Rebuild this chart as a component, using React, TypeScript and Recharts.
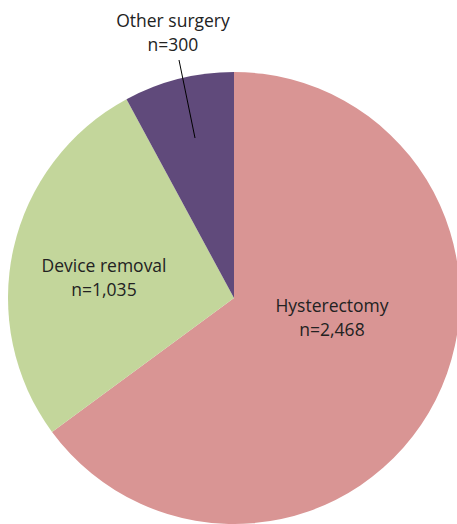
import React from "react";
import { PieChart, Pie, Cell } from "recharts";

const categories = ["Hysterectomy", "Device removal", "Other surgery"];
const counts = [2468, 1035, 300];
const countLabels = ["n=2,468", "n=1,035", "n=300"];

const COLORS = ["#D99594", "#C3D69B", "#604A7B"];

// label placement relative to the pie centre (dx, dy of first line)
const LABEL_OFFSETS: Record<string, { dx: number; dy: number }> = {
  Hysterectomy: { dx: 98, dy: 7 },
  "Device removal": { dx: -130, dy: -33 },
  "Other surgery": { dx: -61, dy: -278 },
};

const data = categories.map((name, i) => ({
  name,
  value: counts[i],
  text: countLabels[i],
}));

const FONT = "'Open Sans', 'Noto Sans', sans-serif";

function renderLabel(props: any) {
  const { cx, cy, name, payload } = props;
  const off = LABEL_OFFSETS[name];
  if (!off) return null;
  const x = cx + off.dx;
  const y = cy + off.dy;
  const isOther = name === "Other surgery";
  return (
    <g>
      {isOther && (
        <line x1={cx - 55} y1={cy - 238} x2={cx - 39} y2={cy - 160} stroke="#000" strokeWidth={1} />
      )}
      <text
        x={x}
        y={y}
        fill="#222"
        textAnchor="middle"
        dominantBaseline="central"
        fontSize={17.5}
        fontFamily={FONT}
      >
        {name}
      </text>
      <text
        x={x}
        y={y + 23.5}
        fill="#222"
        textAnchor="middle"
        dominantBaseline="central"
        fontSize={17.5}
        fontFamily={FONT}
      >
        {payload.text}
      </text>
    </g>
  );
}

export default function App() {
  return (
    <div style={{ position: "absolute", left: 0, top: 0, width: 457, height: 524, background: "#fff" }}>
      <PieChart width={457} height={524} margin={{ top: 0, right: 0, bottom: 0, left: 0 }}>
        <Pie
          data={data}
          dataKey="value"
          nameKey="name"
          cx={234}
          cy={298}
          outerRadius={226}
          startAngle={90}
          endAngle={-270}
          stroke="none"
          label={renderLabel}
          labelLine={false}
          isAnimationActive={false}
        >
          {data.map((_, i) => (
            <Cell key={`cell-${i}`} fill={COLORS[i]} />
          ))}
        </Pie>
      </PieChart>
    </div>
  );
}
